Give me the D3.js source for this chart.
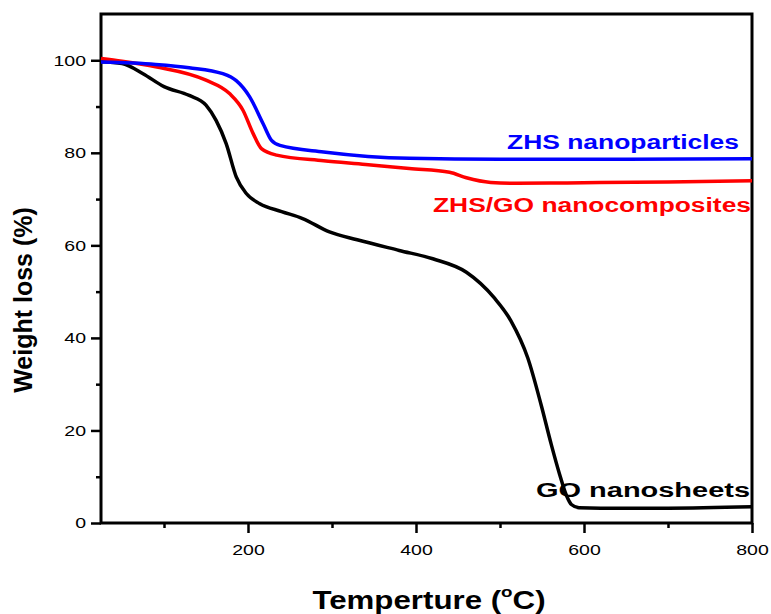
<!DOCTYPE html>
<html>
<head>
<meta charset="utf-8">
<script src="https://cdn.jsdelivr.net/npm/d3@7"></script>
<style>
  body { margin: 0; background: #fff; }
  text { font-family: Arial, "Liberation Sans", sans-serif; }
</style>
</head>
<body>
<div id="chart"></div>
<script>
// tick values
const x_ticks = [200, 400, 600, 800];
const x_minor = [100, 300, 500, 700];
const y_ticks = [0, 20, 40, 60, 80, 100];
const y_minor = [10, 30, 50, 70, 90];

// GO nanosheets
const go_temp   = [25, 50, 75, 100, 130, 150, 162, 174, 186, 198, 214, 240, 265, 297, 330, 380, 420, 460, 493, 513, 533, 549, 561, 571, 579, 585, 594, 620, 700, 800];
const go_weight = [99.7, 99.3, 97.1, 94.3, 92.4, 90.3, 87, 82, 74.8, 71.2, 69.0, 67.3, 65.8, 62.9, 61.2, 58.9, 57.1, 54.2, 48.7, 43.7, 35.7, 25.5, 17.0, 10.5, 6.0, 4.0, 3.3, 3.2, 3.2, 3.5];

// ZHS/GO nanocomposites
const zg_temp   = [25, 50, 90, 150, 178, 194, 206, 216, 234, 290, 340, 392, 440, 460, 489, 520, 580, 700, 800];
const zg_weight = [100.4, 99.8, 98.6, 95.7, 92.8, 89.2, 84.2, 80.9, 79.5, 78.3, 77.5, 76.6, 75.8, 74.6, 73.6, 73.4, 73.5, 73.7, 73.95];

// ZHS nanoparticles
const zhs_temp   = [25, 90, 130, 170, 186, 202, 218, 228, 238, 290, 392, 500, 650, 800];
const zhs_weight = [99.6, 99.1, 98.4, 97.1, 95.6, 92.1, 86.3, 82.7, 81.6, 80.2, 78.8, 78.6, 78.6, 78.7];

const series = [
  {name: 'GO nanosheets', temp: go_temp, weight: go_weight, color: '#000000', lx: 750, ly: 497, lw: 214},
  {name: 'ZHS/GO nanocomposites', temp: zg_temp, weight: zg_weight, color: '#ff0000', lx: 751, ly: 212, lw: 318},
  {name: 'ZHS nanoparticles', temp: zhs_temp, weight: zhs_weight, color: '#0000ff', lx: 739, ly: 149, lw: 232}
];

const width = 771, height = 614;
const plot = {left: 101, right: 752, top: 14, bottom: 523};
const squash = 1.3;   // the picture is stretched sideways

function stretch(sel, factor = squash)
{
  sel.each(function () {
    const len = this.getComputedTextLength();
    d3.select(this)
      .attr('textLength', len * factor)
      .attr('lengthAdjust', 'spacingAndGlyphs');
  });
}

const svg = d3.select('#chart')
  .append('svg')
  .attr('width', width)
  .attr('height', height);

const x = d3.scaleLinear().domain([25, 800]).range([plot.left, plot.right]);
const y = d3.scaleLinear().domain([0, 110]).range([plot.bottom, plot.top]);

// axes
svg.append('g')
  .attr('transform', `translate(0,${plot.bottom})`)
  .call(d3.axisBottom(x).tickValues(x_ticks).tickSize(10).tickPadding(11).tickSizeOuter(0));
svg.append('g')
  .attr('transform', `translate(0,${plot.bottom})`)
  .call(d3.axisBottom(x).tickValues(x_minor).tickSize(5).tickFormat('').tickSizeOuter(0));

svg.append('g')
  .attr('transform', `translate(${plot.left},0)`)
  .call(d3.axisLeft(y).tickValues(y_ticks).tickSize(10).tickPadding(5).tickSizeOuter(0));
svg.append('g')
  .attr('transform', `translate(${plot.left},0)`)
  .call(d3.axisLeft(y).tickValues(y_minor).tickSize(5).tickFormat('').tickSizeOuter(0));

svg.selectAll('.domain').remove();
svg.selectAll('.tick line').attr('stroke', '#000').attr('stroke-width', 2.5);
svg.selectAll('.tick text')
  .attr('font-family', 'Arial, "Liberation Sans", sans-serif')
  .attr('font-size', 15)
  .attr('fill', '#000')
  .call(stretch);

// frame
svg.append('rect')
  .attr('x', plot.left).attr('y', plot.top)
  .attr('width', plot.right - plot.left).attr('height', plot.bottom - plot.top)
  .attr('fill', 'none')
  .attr('stroke', '#000')
  .attr('stroke-width', 3);

// curves
const line = (s) => d3.line()
  .x((d, i) => x(s.temp[i]))
  .y((d) => y(d))
  .curve(d3.curveMonotoneX)(s.weight);

svg.append('g')
  .selectAll('path')
  .data(series)
  .enter()
  .append('path')
  .attr('d', line)
  .attr('fill', 'none')
  .attr('stroke', (d) => d.color)
  .attr('stroke-width', 3.5)
  .attr('stroke-linejoin', 'round');

// series labels
svg.append('g')
  .selectAll('text')
  .data(series)
  .enter()
  .append('text')
  .attr('x', (d) => d.lx)
  .attr('y', (d) => d.ly)
  .attr('text-anchor', 'end')
  .attr('font-size', 20)
  .attr('font-weight', 'bold')
  .attr('fill', (d) => d.color)
  .attr('textLength', (d) => d.lw)
  .attr('lengthAdjust', 'spacingAndGlyphs')
  .text((d) => d.name);

// axis titles
const x_title = svg.append('text')
  .attr('x', 429)
  .attr('y', 609)
  .attr('text-anchor', 'middle')
  .attr('font-size', 25)
  .attr('font-weight', 'bold');
x_title.append('tspan').text('Temperture (');
x_title.append('tspan').attr('font-size', 15).attr('dy', -12).text('o');
x_title.append('tspan').attr('dy', 12).text('C)');
x_title.call(stretch, 1.25);

svg.append('text')
  .attr('transform', 'translate(32,300) rotate(-90)')
  .attr('text-anchor', 'middle')
  .attr('font-size', 25)
  .attr('font-weight', 'bold')
  .text('Weight loss (%)');
</script>
</body>
</html>
